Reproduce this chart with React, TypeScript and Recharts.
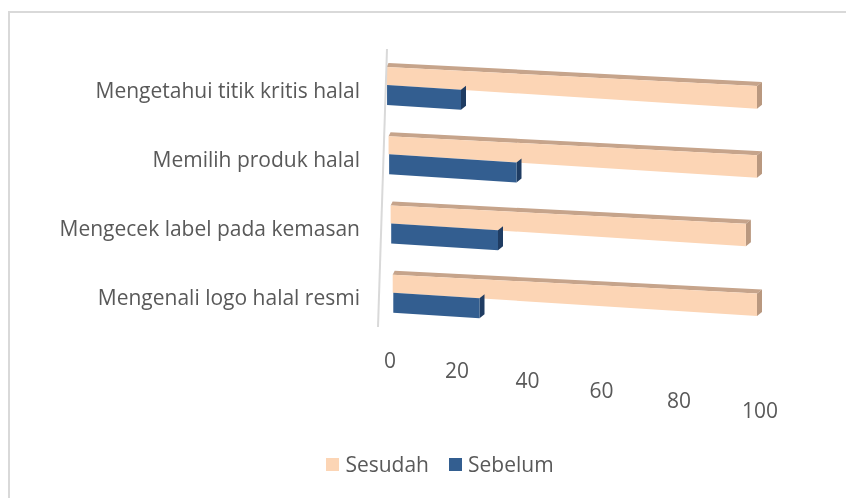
import React from "react";
import { BarChart, Bar, XAxis, YAxis, Legend, ReferenceLine } from "recharts";

const categories = [
  "Mengetahui titik kritis halal",
  "Memilih produk halal",
  "Mengecek label pada kemasan",
  "Mengenali logo halal resmi",
];
const sesudah = [100, 100, 97, 100];
const sebelum = [20, 35, 30, 25];
const xTicks = [0, 20, 40, 60, 80, 100];
const seriesOrder = ["Sesudah", "Sebelum"];

const data = categories.map((c, i) => ({ name: c, Sesudah: sesudah[i], Sebelum: sebelum[i] }));

const FONT = "'Open Sans', 'Noto Sans', sans-serif";
const FS = 21;
const TEXT = "#595959";
const PLOT_TOP = 47;
const TOP_SLOPE = 0.0514;
const BOT_SLOPE = 0.064;

function Bar3D(props: any, opts: { front: string; top?: string; side: string; top0: number; bot0: number; topSlope: number }) {
  const { x, y, width, height } = props;
  if (width == null || width <= 0) return <g />;
  const xs = x + (y - PLOT_TOP) * 0.03 - 1;
  const xe = x + width;
  const w = xe - xs;
  const tl = y + opts.top0;
  const tr = y + opts.top0 + w * opts.topSlope;
  const bl = y + height + opts.bot0;
  const br = y + height + opts.bot0 + w * BOT_SLOPE;
  const dx = 5;
  const dy = -4;
  return (
    <g>
      {opts.top && (
        <polygon
          points={`${xs},${tl} ${xs + 2},${tl + dy} ${xe + dx},${tr + dy} ${xe},${tr}`}
          fill={opts.top}
        />
      )}
      <polygon points={`${xe},${tr} ${xe + dx},${tr + dy} ${xe + dx},${br + dy} ${xe},${br}`} fill={opts.side} />
      <polygon points={`${xs},${tl} ${xe},${tr} ${xe},${br} ${xs},${bl}`} fill={opts.front} />
    </g>
  );
}

const SesudahShape = (p: any) =>
  Bar3D(p, { front: "#fcd5b5", top: "#c6a48b", side: "#b9987f", top0: -4, bot0: -5, topSlope: TOP_SLOPE });
const SebelumShape = (p: any) =>
  Bar3D(p, { front: "#335e90", side: "#1f3c62", top0: -5, bot0: -4, topSlope: BOT_SLOPE });

const XTick = (props: any) => {
  const { x, y, payload } = props;
  const v = payload.value as number;
  const dx = 3 - 0.0044 * v * (100 - v);
  return (
    <text x={x + dx} y={y + 20 + v * 0.5} textAnchor="middle" dominantBaseline="central" fill={TEXT} fontSize={FS} fontFamily={FONT}>
      {v}
    </text>
  );
};

const YTick = (props: any) => {
  const { x, y, payload } = props;
  return (
    <text x={x} y={y} textAnchor="end" dominantBaseline="central" fill={TEXT} fontSize={FS} fontFamily={FONT}>
      {payload.value}
    </text>
  );
};

const AxisLineShape = (p: any) => (
  <line x1={p.x1 - 9} y1={p.y1 - 5} x2={p.x2} y2={p.y2 - 6} stroke="#d9d9d9" strokeWidth={2} />
);

const colors: Record<string, string> = { Sesudah: "#fcd5b5", Sebelum: "#335e90" };

const LegendContent = () => (
  <div style={{ display: "flex", justifyContent: "center", alignItems: "center", gap: 20, fontFamily: FONT, fontSize: FS, color: TEXT, paddingLeft: 34 }}>
    {seriesOrder.map((s) => (
      <div key={s} style={{ display: "flex", alignItems: "center", gap: 6 }}>
        <span style={{ display: "inline-block", width: 13, height: 13, background: colors[s] }} />
        <span>{s}</span>
      </div>
    ))}
  </div>
);

export default function App() {
  return (
    <div style={{ position: "relative", width: 830, height: 482 }}>
      <div
        style={{
          position: "fixed",
          left: 8,
          top: 11,
          right: 0,
          bottom: 0,
          borderTop: "2px solid #d9d9d9",
          borderLeft: "2px solid #d9d9d9",
          pointerEvents: "none",
        }}
      />
      <div style={{ position: "absolute", left: 0, top: 0 }}>
        <BarChart
          width={830}
          height={482}
          layout="vertical"
          data={data}
          margin={{ top: 47, right: 81, bottom: 10, left: 0 }}
          barGap={0}
          barCategoryGap={0}
        >
          <XAxis
            type="number"
            domain={[0, 100]}
            ticks={xTicks}
            axisLine={false}
            tickLine={false}
            tick={<XTick />}
            height={108}
          />
          <YAxis
            type="category"
            dataKey="name"
            width={379}
            axisLine={false}
            tickLine={false}
            tickSize={0}
            tickMargin={27}
            tick={<YTick />}
          />
          <ReferenceLine x={0} stroke="#d9d9d9" shape={AxisLineShape} />
          <Bar dataKey="Sesudah" barSize={19} fill="#fcd5b5" shape={SesudahShape} isAnimationActive={false} />
          <Bar dataKey="Sebelum" barSize={19} fill="#335e90" shape={SebelumShape} isAnimationActive={false} />
          <Legend verticalAlign="bottom" height={40} content={<LegendContent />} wrapperStyle={{ top: 442, left: 0, width: 830 }} />
        </BarChart>
      </div>
    </div>
  );
}
